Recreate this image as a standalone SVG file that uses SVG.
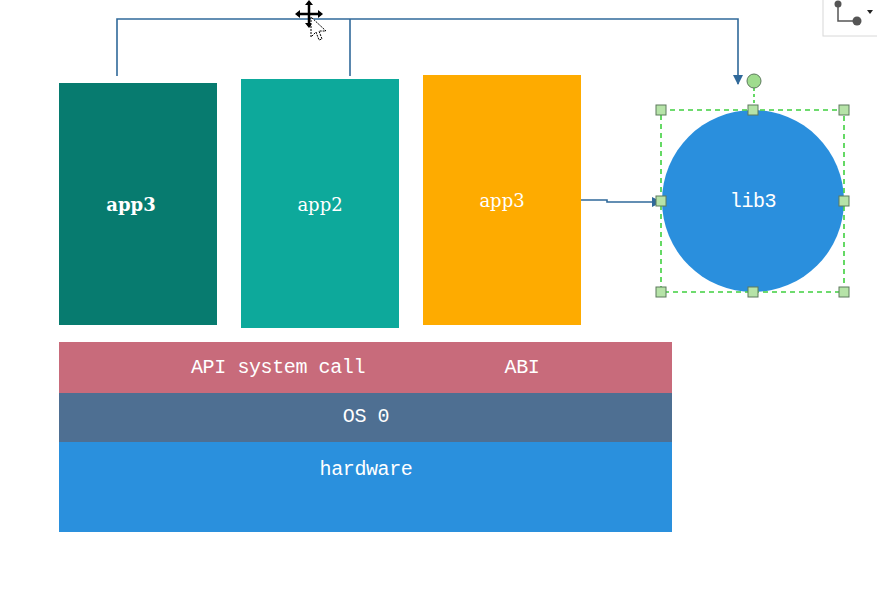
<svg xmlns="http://www.w3.org/2000/svg" width="877" height="600" viewBox="0 0 877 600">
<defs>
<style>
.lbl{fill:#fff;text-anchor:middle;dominant-baseline:central}
.serif{font-family:"DejaVu Serif","Liberation Serif",serif;font-size:18px}
.mono{font-family:"Liberation Mono","DejaVu Sans Mono",monospace;font-size:20px;letter-spacing:-0.4px}
.conn{fill:none;stroke:#30699A;stroke-width:1.6}
.h{fill:#b6e3a8;stroke:#5c7a5c;stroke-width:1}
.sel{fill:none;stroke:#3fd03f;stroke-width:1.6;stroke-dasharray:5 4}
</style>
<marker id="arr" viewBox="0 0 10 10" refX="9" refY="5" markerWidth="10" markerHeight="10" markerUnits="userSpaceOnUse" orient="auto">
<path d="M0,0 L10,5 L0,10 z" fill="#30699A"/>
</marker>
</defs>
<rect width="877" height="600" fill="#fff"/>

<g id="app3a">
<rect x="59" y="83" width="158" height="242" fill="#077B6F"/>
<text class="lbl serif" x="131" y="204" font-weight="bold" font-size="19">app3</text>
</g>
<g id="app2">
<rect x="241" y="79" width="158" height="249" fill="#0DA99B"/>
<text class="lbl serif" x="320" y="204">app2</text>
</g>
<g id="app3b">
<rect x="423" y="75" width="158" height="250" fill="#FEAB00"/>
<text class="lbl serif" x="502" y="200">app3</text>
</g>

<g id="api">
<rect x="59" y="342" width="613" height="51" fill="#C86B7B"/>
<text class="lbl mono" x="278" y="367">API system call</text>
<text class="lbl mono" x="522" y="367">ABI</text>
</g>
<g id="os">
<rect x="59" y="393" width="613" height="49" fill="#4E6F92"/>
<text class="lbl mono" x="366" y="416">OS 0</text>
</g>
<g id="hardware">
<rect x="59" y="442" width="613" height="90" fill="#2A90DD"/>
<text class="lbl mono" x="366" y="469">hardware</text>
</g>

<g id="lib3">
<circle cx="753" cy="201" r="91" fill="#2A8FDD"/>
<text class="lbl mono" x="753" y="201">lib3</text>
</g>

<g id="connectors">
<path class="conn" d="M117,76 V19 H738 V84" marker-end="url(#arr)"/>
<path class="conn" d="M350,76 V19"/>
<path class="conn" d="M581,200 H607 V202 H661" marker-end="url(#arr)"/>
</g>

<g id="selection">
<rect class="sel" x="661" y="110" width="183" height="182"/>
<line x1="754" y1="88" x2="754" y2="110" stroke="#3fd03f" stroke-width="1.6" stroke-dasharray="3 3"/>
<circle cx="754" cy="81" r="7" fill="#9fdc8e" stroke="#5c7a5c"/>
<rect class="h" x="656" y="105" width="10" height="10"/>
<rect class="h" x="748" y="105" width="10" height="10"/>
<rect class="h" x="839" y="105" width="10" height="10"/>
<rect class="h" x="656" y="196" width="10" height="10"/>
<rect class="h" x="839" y="196" width="10" height="10"/>
<rect class="h" x="656" y="287" width="10" height="10"/>
<rect class="h" x="748" y="287" width="10" height="10"/>
<rect class="h" x="839" y="287" width="10" height="10"/>
</g>

<g id="toolbar">
<rect x="823" y="-2" width="60" height="38" fill="#fff" stroke="#d8d8d8"/>
<path d="M838,4 V21 H856" fill="none" stroke="#555" stroke-width="1.5"/>
<circle cx="838" cy="4" r="3.5" fill="#555"/>
<circle cx="857" cy="21" r="4.5" fill="#555"/>
<path d="M867,10 h6 l-3,4 z" fill="#222"/>
</g>

<g id="cursor">
<path d="M309,2 V26 M297,14 H321" stroke="#000" stroke-width="2.5"/>
<path d="M309,0 l-4,5 h8 z M309,28 l-4,-5 h8 z M295,14 l5,-4 v8 z M323,14 l-5,-4 v8 z" fill="#000"/>
<path d="M311,17 v20 l5,-5 l3,8 l3,-1 l-3,-8 h7 z" fill="#fff" stroke="#000" stroke-width="1" stroke-dasharray="2 1"/>
</g>
</svg>
